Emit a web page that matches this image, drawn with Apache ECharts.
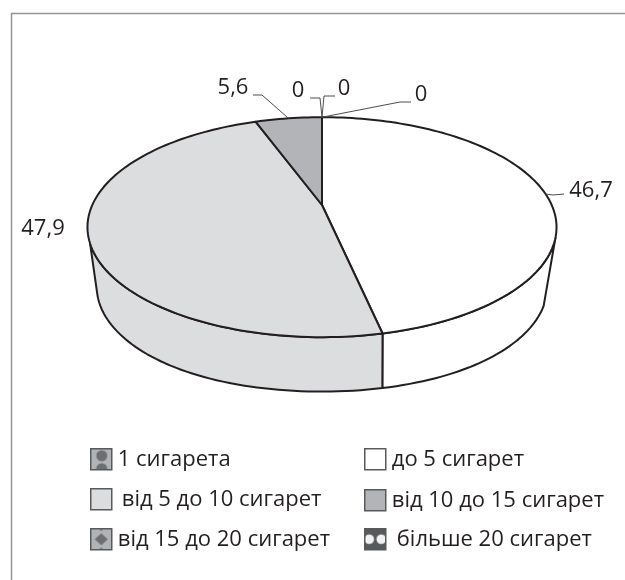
<!DOCTYPE html>
<html>
<head>
<meta charset="utf-8">
<style>
html,body{margin:0;padding:0;background:#fff}
#chart{width:625px;height:580px}
</style>
<script src="https://cdn.jsdelivr.net/npm/echarts@6/dist/echarts.min.js"></script>
</head>
<body>
<div id="chart"></div>
<script>
const categories = ['1 сигарета', 'до 5 сигарет', 'від 5 до 10 сигарет', 'від 10 до 15 сигарет', 'від 15 до 20 сигарет', 'більше 20 сигарет']
const values = [0, 46.7, 47.9, 5.6, 0, 0]
const valueLabels = ['0', '46,7', '47,9', '5,6', '0', '0']

// where each label sits and its leader line
const labelPos = [[421, 95], [591, 191], [43, 229], [233, 88], [298, 91], [344, 89]]
const leaders = [
  [[411, 102], [400, 102]],
  [[564, 194], [553, 195]],
  null,
  [[253, 95], [262, 95]],
  [[310, 98], [320, 98]],
  [[335, 96], [324, 96]]
]
const legendPos = [[90, 448], [364, 448], [90, 488], [364, 489], [90, 528], [364, 528]]
const legendGap = [6, 6, 10, 6, 6, 11]

// 透视参数
const cx = 322
const cy = 205
const A = 229.7
const B = 105.5
const K = 0.2019
const rimFrom = 107
const rimTo = 250
const baseFrom = 111.6
const baseTo = 254.5
const total = values.reduce((a, b) => a + b, 0)
const line = '#231f20'
const font = '"Open Sans", "Noto Sans", sans-serif'

const topPoint = (deg) => {
  const r = deg * Math.PI / 180
  const u = Math.sin(r)
  const v = -Math.cos(r)
  const d = 1 - K * v
  return [cx + A * u / d, cy + B * v / d]
}
const basePoint = (deg) => {
  const r = deg * Math.PI / 180
  const u = Math.sin(r)
  const v = -Math.cos(r)
  const d = 1 - K * v
  const s = 0.96 + 0.04 * Math.pow(Math.max(v, 0), 4)
  return [cx + s * A * u / d, 266 + 0.95 * B * v / d]
}
const arc = (fn, a, b) => {
  const pts = []
  const n = Math.max(2, Math.ceil(Math.abs(b - a) / 1.5))
  for (let i = 0; i <= n; i++) pts.push(fn(a + (b - a) * i / n))
  return pts
}

// 图例小方块的图案
const swatch = (bg, fg, kind) => {
  const c = document.createElement('canvas')
  c.width = 21
  c.height = 21
  const g = c.getContext('2d')
  g.fillStyle = bg
  g.fillRect(0, 0, 21, 21)
  g.fillStyle = fg
  if (kind === 'dots') {
    g.beginPath(); g.arc(11, 7, 5.5, 0, 7); g.fill()
    g.beginPath(); g.arc(11, 20, 5.5, 0, 7); g.fill()
  } else if (kind === 'diamond') {
    g.beginPath(); g.moveTo(10.5, 4.5); g.lineTo(17, 10.5); g.lineTo(10.5, 16.5); g.lineTo(4, 10.5); g.fill()
    g.fillRect(9.5, 0, 2, 2); g.fillRect(9.5, 19, 2, 2)
  } else if (kind === 'eyes') {
    g.beginPath(); g.arc(4.5, 10.5, 4.8, 0, 7); g.fill()
    g.beginPath(); g.arc(16.5, 10.5, 4.8, 0, 7); g.fill()
  }
  return c
}
const fills = [
  { image: swatch('#b1b3b6', '#6d6e71', 'dots'), repeat: 'no-repeat' },
  '#ffffff',
  '#dcddde',
  '#b3b4b7',
  { image: swatch('#b1b3b6', '#6d6e71', 'diamond'), repeat: 'no-repeat' },
  { image: swatch('#58595b', '#f1f2f2', 'eyes'), repeat: 'no-repeat' }
]

const startAngles = []
values.reduce((sum, v) => { startAngles.push(sum / total * 360); return sum + v }, 0)

// 每一类一个自定义系列，扇形由数值算出
const series = categories.map((name, i) => ({
  name,
  type: 'custom',
  coordinateSystem: 'none',
  silent: true,
  itemStyle: { color: fills[i], borderColor: line, borderWidth: 1 },
  data: [values[i]],
  renderItem: () => {
    const a0 = startAngles[i]
    const a1 = a0 + values[i] / total * 360
    const children = []
    const lineStyle = { fill: 'none', stroke: line, lineWidth: 2 }
    const fillColor = typeof fills[i] === 'string' ? fills[i] : '#a7a9ac'
    // 侧面：只画朝前的部分
    if (Math.min(a1, rimTo) > Math.max(a0, rimFrom)) {
      const rim = arc(topPoint, Math.max(a0, rimFrom), Math.min(a1, rimTo))
      const bottom = arc(basePoint, Math.max(a0, baseFrom), Math.min(a1, baseTo)).reverse()
      children.push({
        type: 'polygon',
        shape: { points: rim.concat(bottom) },
        style: { fill: fillColor, stroke: line, lineWidth: 2, lineJoin: 'round' },
        z2: 1
      })
    }
    // 顶面
    if (a1 > a0) {
      children.push({
        type: 'polygon',
        shape: { points: [[cx, cy]].concat(arc(topPoint, a0, a1)) },
        style: { fill: fillColor, stroke: line, lineWidth: 2, lineJoin: 'round' },
        z2: 2
      })
    } else {
      children.push({ type: 'polyline', shape: { points: [[cx, cy], topPoint(a0)] }, style: lineStyle, z2: 3 })
    }
    // 引线
    if (leaders[i]) {
      children.push({
        type: 'polyline',
        shape: { points: leaders[i].concat([topPoint((a0 + a1) / 2)]) },
        style: { fill: 'none', stroke: '#4d4d4f', lineWidth: 1 },
        z2: 4
      })
    }
    children.push({
      type: 'text',
      x: labelPos[i][0],
      y: labelPos[i][1],
      style: {
        text: valueLabels[i],
        fill: '#231f20',
        font: '22px ' + font,
        align: 'center',
        verticalAlign: 'middle'
      },
      z2: 5
    })
    return { type: 'group', children }
  }
}))

const legend = categories.map((name, i) => ({
  data: [name],
  left: legendPos[i][0],
  top: legendPos[i][1],
  orient: 'horizontal',
  icon: 'rect',
  itemWidth: 21,
  itemHeight: 21,
  itemGap: 0,
  selectedMode: false,
  padding: 0,
  itemStyle: { borderColor: '#58595b', borderWidth: 1.5 },
  textStyle: {
    color: '#231f20',
    fontSize: 22,
    fontFamily: font,
    padding: [3, 0, 0, legendGap[i] - 5]
  }
}))

const myChart = echarts.init(document.getElementById('chart'))
myChart.setOption({
  animation: false,
  backgroundColor: '#ffffff',
  legend,
  series,
  graphic: [{
    type: 'polyline',
    shape: { points: [[625, 13.5], [11.5, 13.5], [11.5, 580]] },
    style: { fill: 'none', stroke: '#929497', lineWidth: 1.5 },
    silent: true
  }]
})
</script>
</body>
</html>
